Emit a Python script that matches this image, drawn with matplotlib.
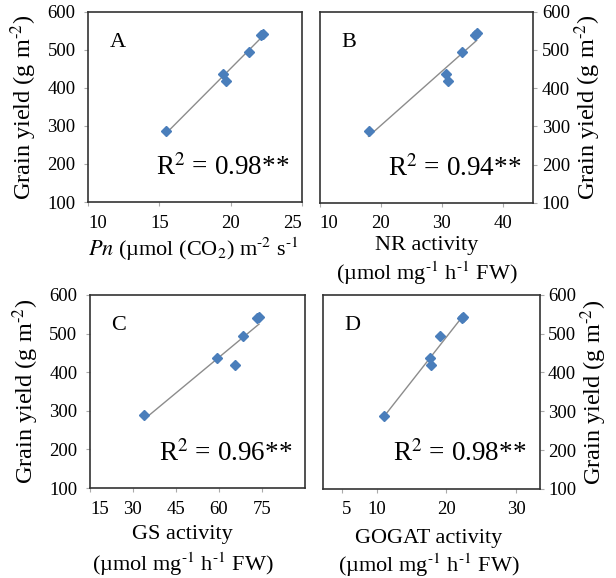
import numpy as np
import matplotlib
matplotlib.use("Agg")
import matplotlib.pyplot as plt

plt.rcParams["font.family"] = ["Liberation Serif", "DejaVu Serif"]
plt.rcParams["mathtext.fontset"] = "stix"

# grain yield (g m-2), same six plots in every panel
yield_gm2 = np.array([288, 437, 419, 494, 540, 543])

# x variables
pn = np.array([15.5, 19.5, 19.7, 21.3, 22.1, 22.3])
nr = np.array([18.0, 30.6, 31.0, 33.3, 35.5, 35.7])
gs = np.array([34.0, 59.4, 65.5, 68.4, 73.4, 74.0])
gogat = np.array([11.0, 17.6, 17.7, 19.1, 22.2, 22.4])

letters = ["A", "B", "C", "D"]
r2_text = ["0.98", "0.94", "0.96", "0.98"]
xlabels = ["$\\it{Pn}$ (µmol (CO$_2$) m$^{\\text{-}2}$ s$^{\\text{-}1}$",
           "NR activity\n(µmol mg$^{\\text{-}1}$ h$^{\\text{-}1}$ FW)",
           "GS activity\n(µmol mg$^{\\text{-}1}$ h$^{\\text{-}1}$ FW)",
           "GOGAT activity\n(µmol mg$^{\\text{-}1}$ h$^{\\text{-}1}$ FW)"]
xticks = [[10, 15, 20, 25], [10, 20, 30, 40], [15, 30, 45, 60, 75], [5, 10, 20, 30]]
xlims = [(10, 25), (10, 45), (15, 90), (2.2, 33.4)]
yticks = [100, 200, 300, 400, 500, 600]
ylab = "Grain yield (g m$^{\\text{-}2}$)"

fig = plt.figure(figsize=(6.16, 5.78), dpi=100)
boxes = [[0.143, 0.6505, 0.347, 0.329],
         [0.519, 0.6490, 0.347, 0.331],
         [0.146, 0.1557, 0.349, 0.334],
         [0.524, 0.1540, 0.352, 0.336]]
xlab_pos = [(0.49, -0.175), (0.5, -0.175), (0.43, -0.19), (0.49, -0.205)]
xlab_ls = [1.0, 1.2, 1.35, 1.2]

for i, xs in enumerate([pn, nr, gs, gogat]):
    ax = fig.add_axes(boxes[i])
    m, b = np.polyfit(xs, yield_gm2, 1)
    xl = np.array([xs.min(), xs.max()])
    ax.plot(xl, m * xl + b, color="#8c8c8c", lw=1.0, zorder=2)
    ax.plot(xs, yield_gm2, "D", color="#4a7ebb", ms=5.5, mec="#4a7ebb", zorder=3)
    ax.set_xlim(*xlims[i])
    ax.set_ylim(100, 600)
    ax.set_xticks(xticks[i])
    ax.set_yticks(yticks)
    for s in ax.spines.values():
        s.set_color("#333333")
        s.set_linewidth(1.2)
    ax.tick_params(axis="both", length=3, color="#aaaaaa", labelsize=13.5, pad=6)
    tl = ax.get_xticklabels()
    if xticks[i][0] == xlims[i][0] or i == 3:
        tl[0].set_ha("left")
    if xticks[i][-1] == xlims[i][1]:
        tl[-1].set_ha("right")
    if i in (1, 3):
        ax.yaxis.tick_right()
        ax.yaxis.set_label_position("right")
        ax.tick_params(axis="y", pad=3)
        ax.set_ylabel(ylab, fontsize=17.5, rotation=90, labelpad=2)
    else:
        ax.set_ylabel(ylab, fontsize=17.5, labelpad=6)
    ax.set_xlabel(xlabels[i], fontsize=16, linespacing=xlab_ls[i])
    ax.xaxis.set_label_coords(xlab_pos[i][0], xlab_pos[i][1], transform=ax.transAxes)
    ax.xaxis.label.set_va("top")
    ax.text(0.10, 0.84, letters[i], transform=ax.transAxes, fontsize=16, va="center")
    ax.text(0.63, 0.18, "R$^2$ = " + r2_text[i] + "**", transform=ax.transAxes,
            fontsize=19.5, ha="center", va="center")

fig.savefig("out.png", dpi=100)
